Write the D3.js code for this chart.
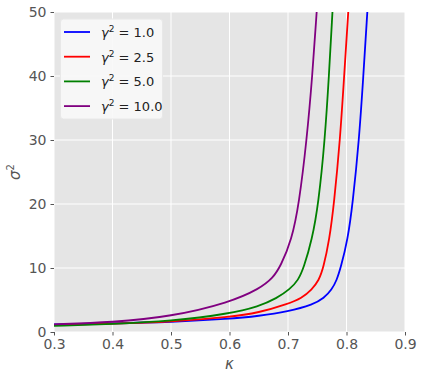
<!DOCTYPE html>
<html>
<head>
<meta charset="utf-8">
<script src="https://cdn.jsdelivr.net/npm/d3@7"></script>
<style>
  body { margin: 0; background: #fff; }
  text { font-family: "DejaVu Sans", sans-serif; }
</style>
</head>
<body>
<div id="main"></div>
<script>
const ctx = {
    w: 423,
    h: 378,
};

// valeurs (kappa, sigma^2)
const gammaLabels = ["1.0", "2.5", "5.0", "10.0"];
const colors = ["#0000ff", "#ff0000", "#008000", "#800080"];

const kappaBlue  = [0.3, 0.4, 0.5, 0.6, 0.65, 0.7, 0.7433, 0.7615, 0.7747, 0.7833, 0.790, 0.802, 0.8105, 0.8215, 0.8288, 0.8356];
const sigmaBlue  = [1.2, 1.35, 1.55, 2.05, 2.5, 3.2, 4.3, 5.3, 6.6, 8.1, 10, 14.4, 20, 30, 40, 50];
const kappaRed   = [0.3, 0.4, 0.5, 0.6, 0.65, 0.7, 0.7234, 0.7405, 0.753, 0.7604, 0.7707, 0.7786, 0.789, 0.796, 0.803];
const sigmaRed   = [1.1, 1.3, 1.6, 2.35, 3.0, 4.4, 5.3, 6.6, 8.1, 10, 14.4, 20, 30, 40, 50];
const kappaGreen = [0.3, 0.4, 0.5, 0.6, 0.65, 0.6807, 0.7034, 0.7176, 0.7268, 0.741, 0.752, 0.763, 0.770, 0.776];
const sigmaGreen = [0.95, 1.25, 1.7, 2.85, 4.0, 5.26, 6.7, 8.1, 10, 14.4, 20, 30, 40, 50];
const kappaPurple = [0.3, 0.4, 0.5, 0.6, 0.652, 0.6738, 0.6875, 0.7063, 0.7188, 0.732, 0.7416, 0.749];
const sigmaPurple = [1.2, 1.5, 2.4, 4.6, 6.8, 8.4, 10.3, 14.4, 20, 30, 40, 50];

const xTicks = [0.3, 0.4, 0.5, 0.6, 0.7, 0.8, 0.9];
const yTicks = [0, 10, 20, 30, 40, 50];

function createChart(svgEl) {
    const left = 54, right = 405, top = 12, bottom = 332;
    const x = d3.scaleLinear().domain([0.3, 0.9]).range([left, right]);
    const y = d3.scaleLinear().domain([0, 50]).range([bottom, top]);

    // fond gris façon ggplot
    svgEl.append("rect")
        .attr("x", left).attr("y", top)
        .attr("width", right - left).attr("height", bottom - top)
        .attr("fill", "#e5e5e5");

    // grille
    svgEl.append("g").selectAll("line").data(xTicks).enter().append("line")
        .attr("x1", d => x(d)).attr("x2", d => x(d))
        .attr("y1", top).attr("y2", bottom)
        .attr("stroke", "#fff").attr("stroke-width", 1);
    svgEl.append("g").selectAll("line").data(yTicks).enter().append("line")
        .attr("x1", left).attr("x2", right)
        .attr("y1", d => y(d)).attr("y2", d => y(d))
        .attr("stroke", "#fff").attr("stroke-width", 1);

    // axes
    const xAxis = svgEl.append("g")
        .attr("transform", `translate(0,${bottom})`)
        .call(d3.axisBottom(x).tickValues(xTicks).tickFormat(d3.format(".1f")).tickSize(3.5).tickPadding(4));
    const yAxis = svgEl.append("g")
        .attr("transform", `translate(${left},0)`)
        .call(d3.axisLeft(y).tickValues(yTicks).tickSize(3.5).tickPadding(4));
    [xAxis, yAxis].forEach(a => {
        a.select(".domain").remove();
        a.selectAll(".tick line").attr("stroke", "#555");
        a.selectAll(".tick text").attr("fill", "#555").style("font-size", "14px")
            .style("font-family", "'DejaVu Sans', sans-serif");
    });

    // courbes
    const series = [
        [kappaBlue, sigmaBlue],
        [kappaRed, sigmaRed],
        [kappaGreen, sigmaGreen],
        [kappaPurple, sigmaPurple],
    ];
    const line = d3.line()
        .x(d => x(d[0]))
        .y(d => y(d[1]))
        .curve(d3.curveBasis);

    svgEl.append("clipPath").attr("id", "clip")
        .append("rect").attr("x", left).attr("y", top)
        .attr("width", right - left).attr("height", bottom - top);

    const gLines = svgEl.append("g").attr("clip-path", "url(#clip)");
    series.forEach((s, i) => {
        const pts = s[0].map((k, j) => [k, s[1][j]]);
        gLines.append("path")
            .attr("d", line(pts))
            .attr("fill", "none")
            .attr("stroke", colors[i])
            .attr("stroke-width", 1.8);
    });

    // légende
    const gLeg = svgEl.append("g");
    gLeg.append("rect")
        .attr("x", 60.5).attr("y", 19).attr("width", 102).attr("height", 100)
        .attr("rx", 3).attr("fill", "#f8f8f8").attr("fill-opacity", 0.9)
        .attr("stroke", "#e8e8e8");
    gammaLabels.forEach((g, i) => {
        const yy = 32 + i * 24.7;
        gLeg.append("line")
            .attr("x1", 64).attr("x2", 90).attr("y1", yy).attr("y2", yy)
            .attr("stroke", colors[i]).attr("stroke-width", 1.8);
        const t = gLeg.append("text")
            .attr("x", 101).attr("y", yy + 5)
            .attr("fill", "#222").style("font-size", "13px");
        t.append("tspan").attr("font-style", "italic").text("γ");
        t.append("tspan").attr("dy", -5).style("font-size", "9px").text("2");
        t.append("tspan").attr("dy", 5).text(" = " + g);
    });

    // titres des axes
    svgEl.append("text")
        .attr("x", (left + right) / 2).attr("y", 369)
        .attr("text-anchor", "middle").attr("fill", "#555")
        .style("font-size", "15px").style("font-style", "italic")
        .text("κ");
    const yl = svgEl.append("text")
        .attr("transform", `translate(20,${(top + bottom) / 2}) rotate(-90)`)
        .attr("text-anchor", "middle").attr("fill", "#555")
        .style("font-size", "15px");
    yl.append("tspan").style("font-style", "italic").text("σ");
    yl.append("tspan").attr("dy", -6).style("font-size", "10px").text("2");
}

function createViz() {
    const svgEl = d3.select("#main").append("svg")
        .attr("width", ctx.w)
        .attr("height", ctx.h);
    createChart(svgEl);
}

createViz();
</script>
</body>
</html>
